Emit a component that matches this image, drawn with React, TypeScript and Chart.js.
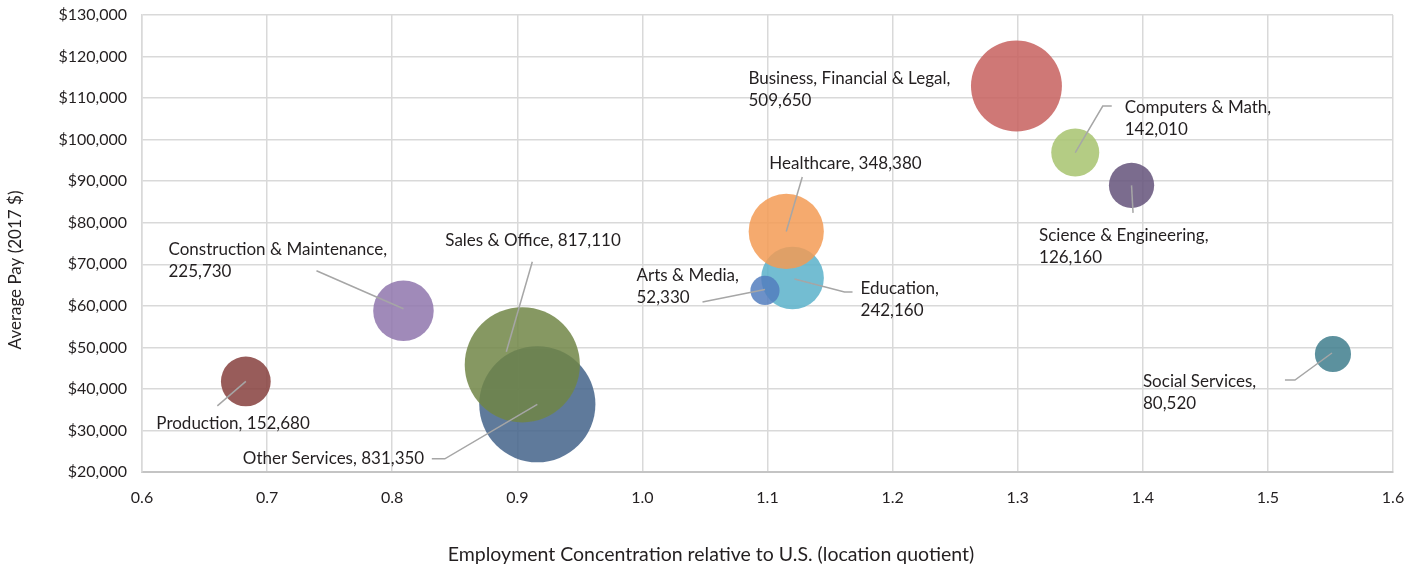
import React, { useEffect, useRef } from "react";
import { Chart, registerables } from "chart.js";

Chart.register(...registerables);

// ---- Data ----
const categories = [
  "Education",
  "Healthcare",
  "Arts & Media",
  "Business, Financial & Legal",
  "Computers & Math",
  "Science & Engineering",
  "Social Services",
  "Construction & Maintenance",
  "Production",
  "Other Services",
  "Sales & Office",
];
const locationQuotient = [1.12, 1.115, 1.098, 1.299, 1.346, 1.391, 1.552, 0.809, 0.683, 0.916, 0.904];
const averagePay = [66700, 77900, 63700, 112900, 96900, 89000, 48400, 58800, 41800, 36300, 45800];
const employment = [242160, 348380, 52330, 509650, 142010, 126160, 80520, 225730, 152680, 831350, 817110];
const xTickValues = [0.6, 0.7, 0.8, 0.9, 1.0, 1.1, 1.2, 1.3, 1.4, 1.5, 1.6];
const yTickValues = [20000, 30000, 40000, 50000, 60000, 70000, 80000, 90000, 100000, 110000, 120000, 130000];

const xTitle = "Employment Concentration relative to U.S. (location quotient)";
const yTitle = "Average Pay (2017 $)";

// ---- Styles / layout ----
const colors = [
  "rgba(90,178,202,0.85)",
  "rgba(243,155,85,0.85)",
  "rgba(84,126,190,0.85)",
  "rgba(199,96,94,0.85)",
  "rgba(167,195,110,0.85)",
  "rgba(100,82,122,0.85)",
  "rgba(63,126,141,0.85)",
  "rgba(143,117,173,0.85)",
  "rgba(134,63,61,0.85)",
  "rgba(67,99,137,0.85)",
  "rgba(113,134,71,0.85)",
];
const BUBBLE_SCALE = 0.0637; // px per sqrt(employment)

// label layout: offset of label (left, first-line middle) from bubble centre, two-line?, leader polyline
type Layout = { dx: number; dy: number; split: boolean; leader: number[][] | null };
const labelLayout: Layout[] = [
  { dx: 68, dy: 11, split: true, leader: [[2, 1], [52, 14], [60, 14]] },
  { dx: -17, dy: -67.5, split: false, leader: [[0, 0], [16, -54.5]] },
  { dx: -128.5, dy: -14.5, split: true, leader: [[0, -1], [-62.5, 11.5]] },
  { dx: -268, dy: -8, split: true, leader: null },
  { dx: 49.5, dy: -44.5, split: true, leader: [[0, 0], [27.5, -46.5], [36.5, -46.5]] },
  { dx: -92.5, dy: 50.5, split: true, leader: [[0, 0], [1.5, 27.5]] },
  { dx: -190, dy: 28, split: true, leader: [[-1, -1], [-38, 26], [-48, 26]] },
  { dx: -235, dy: -61, split: true, leader: [[0, -2], [-87, -40]] },
  { dx: -89.5, dy: 42.5, split: false, leader: [[0, 0], [-28.5, 24.5]] },
  { dx: -294.5, dy: 54.5, split: false, leader: [[0, 0], [-92.5, 54.5], [-105.5, 54.5]] },
  { dx: -77, dy: -124, split: false, leader: [[-16, -13], [10, -103]] },
];

const FONT = "Lato, 'Open Sans', sans-serif";
const TEXT = "#231f20";

const annotationPlugin = {
  id: "bubbleLabels",
  afterDatasetsDraw(chart: any) {
    const ctx = chart.ctx as CanvasRenderingContext2D;
    const meta = chart.getDatasetMeta(0);
    ctx.save();
    // leader lines
    ctx.strokeStyle = "#a6a6a6";
    ctx.lineWidth = 1.5;
    meta.data.forEach((el: any, i: number) => {
      const lay = labelLayout[i];
      if (!lay.leader) return;
      ctx.beginPath();
      lay.leader.forEach((p, k) => {
        const px = el.x + p[0];
        const py = el.y + p[1];
        if (k === 0) ctx.moveTo(px, py);
        else ctx.lineTo(px, py);
      });
      ctx.stroke();
    });
    // labels
    ctx.fillStyle = TEXT;
    ctx.font = `17px ${FONT}`;
    ctx.textAlign = "left";
    ctx.textBaseline = "middle";
    meta.data.forEach((el: any, i: number) => {
      const lay = labelLayout[i];
      const val = employment[i].toLocaleString("en-US");
      const lines = lay.split ? [categories[i] + ",", val] : [categories[i] + ", " + val];
      lines.forEach((t, k) => ctx.fillText(t, el.x + lay.dx, el.y + lay.dy + k * 22));
    });
    ctx.restore();
  },
  afterDraw(chart: any) {
    const ctx = chart.ctx as CanvasRenderingContext2D;
    ctx.save();
    ctx.fillStyle = TEXT;
    ctx.textAlign = "center";
    ctx.textBaseline = "middle";
    ctx.font = `19.5px ${FONT}`;
    ctx.fillText(xTitle, 711, 555);
    ctx.font = `17px ${FONT}`;
    ctx.translate(16, 270);
    ctx.rotate(-Math.PI / 2);
    ctx.fillText(yTitle, 0, 0);
    ctx.restore();
  },
};

export default function App() {
  const ref = useRef<HTMLCanvasElement | null>(null);
  useEffect(() => {
    document.body.style.margin = "0";
    const canvas = ref.current!;
    const chart = new Chart(canvas, {
      type: "bubble",
      data: {
        datasets: [
          {
            label: "Occupations",
            data: categories.map((_, i) => ({
              x: locationQuotient[i],
              y: averagePay[i],
              r: BUBBLE_SCALE * Math.sqrt(employment[i]),
            })),
            backgroundColor: colors,
            borderWidth: 0,
            hoverBorderWidth: 0,
          },
        ],
      },
      options: {
        animation: false,
        responsive: false,
        devicePixelRatio: 1,
        layout: { autoPadding: false, padding: { top: 15, right: 24, left: 0, bottom: 0 } },
        plugins: { legend: { display: false }, tooltip: { enabled: false } },
        scales: {
          x: {
            type: "linear",
            min: xTickValues[0],
            max: xTickValues[xTickValues.length - 1],
            afterBuildTicks: (s: any) => {
              s.ticks = xTickValues.map((v) => ({ value: v }));
            },
            afterFit: (s: any) => {
              s.height = 100;
              s.paddingLeft = 0;
              s.paddingRight = 0;
            },
            ticks: {
              font: { family: FONT, size: 16 },
              color: TEXT,
              padding: 16,
              callback: (v: any) => Number(v).toFixed(1),
            },
            grid: { color: "#d9d9d9", lineWidth: 1.5, drawTicks: false },
            border: { color: "#c4c4c4", width: 2 },
          },
          y: {
            type: "linear",
            min: yTickValues[0],
            max: yTickValues[yTickValues.length - 1],
            afterBuildTicks: (s: any) => {
              s.ticks = yTickValues.map((v) => ({ value: v }));
            },
            afterFit: (s: any) => {
              s.width = 142;
              s.paddingTop = 0;
              s.paddingBottom = 0;
            },
            ticks: {
              font: { family: FONT, size: 16 },
              color: TEXT,
              padding: 15,
              callback: (v: any) => "$" + Number(v).toLocaleString("en-US"),
            },
            grid: { color: "#d9d9d9", lineWidth: 1.5, drawTicks: false },
            border: { color: "#d9d9d9", width: 1.5 },
          },
        },
      },
      plugins: [annotationPlugin],
    });
    return () => chart.destroy();
  }, []);
  return (
    <div style={{ width: 1417, height: 572, background: "#fff" }}>
      <canvas ref={ref} width={1417} height={572} />
    </div>
  );
}
